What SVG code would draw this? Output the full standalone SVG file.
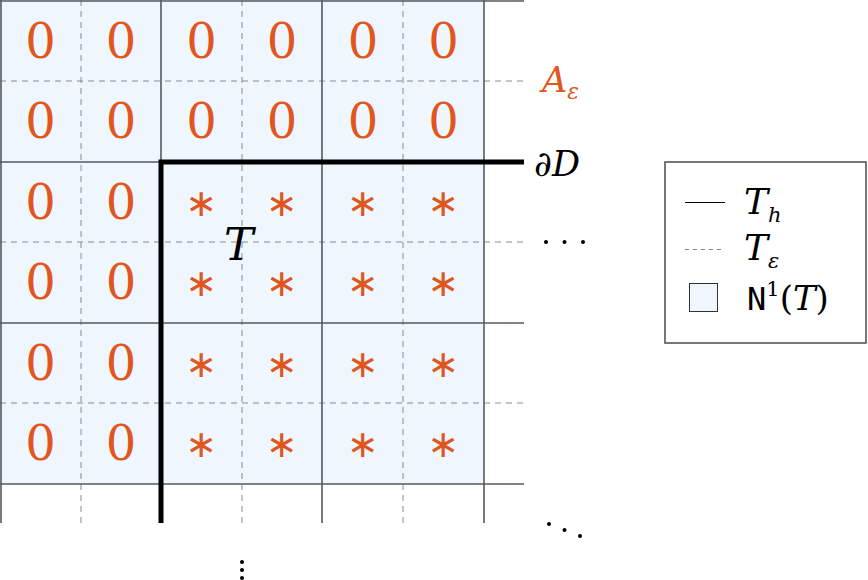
<svg xmlns="http://www.w3.org/2000/svg" width="868" height="580" viewBox="0 0 868 580">
<style>
.solid{stroke:#555a60;stroke-width:1.6;fill:none}
.dash{stroke:#8a8a8a;stroke-width:1;stroke-dasharray:6,5;fill:none}
.zero{font-family:'DejaVu Serif',serif;font-size:48px;fill:#e0561e;text-anchor:middle;font-weight:normal}
.ast{font-family:'DejaVu Sans',sans-serif;font-size:38px;fill:#e0561e;text-anchor:middle}
.math{font-family:'DejaVu Serif',serif;font-style:italic;fill:#000}
</style>
<rect x="0" y="0" width="868" height="580" fill="#fff"/>
<rect x="0" y="0" width="484" height="484" fill="#eff6fe"/>
<g id="grid">
<path class="dash" d="M0 81H524M0 242H524M0 403H524M81 0V523M242 0V523M403 0V523"/>
<path class="solid" d="M0 1H524M0 162H524M0 323H524M0 484H524M1 0V523M161 0V523M322 0V523M484 0V523"/>
</g>
<g id="connectors">
<path d="M161 523V162H524" stroke="#000" stroke-width="5" fill="none"/>
</g>
<g id="zeros">
<text class="zero" x="40.5" y="58">0</text><text class="zero" x="121" y="58">0</text><text class="zero" x="201.5" y="58">0</text><text class="zero" x="282" y="58">0</text><text class="zero" x="363" y="58">0</text><text class="zero" x="443.5" y="58">0</text>
<text class="zero" x="40.5" y="138">0</text><text class="zero" x="121" y="138">0</text><text class="zero" x="201.5" y="138">0</text><text class="zero" x="282" y="138">0</text><text class="zero" x="363" y="138">0</text><text class="zero" x="443.5" y="138">0</text>
<text class="zero" x="40.5" y="219">0</text><text class="zero" x="121" y="219">0</text>
<text class="zero" x="40.5" y="299">0</text><text class="zero" x="121" y="299">0</text>
<text class="zero" x="40.5" y="380">0</text><text class="zero" x="121" y="380">0</text>
<text class="zero" x="40.5" y="460">0</text><text class="zero" x="121" y="460">0</text>
</g>
<g id="stars">
<text class="ast" x="201.5" y="216">∗</text><text class="ast" x="282" y="216">∗</text><text class="ast" x="363" y="216">∗</text><text class="ast" x="443.5" y="216">∗</text>
<text class="ast" x="201.5" y="296">∗</text><text class="ast" x="282" y="296">∗</text><text class="ast" x="363" y="296">∗</text><text class="ast" x="443.5" y="296">∗</text>
<text class="ast" x="201.5" y="377">∗</text><text class="ast" x="282" y="377">∗</text><text class="ast" x="363" y="377">∗</text><text class="ast" x="443.5" y="377">∗</text>
<text class="ast" x="201.5" y="457">∗</text><text class="ast" x="282" y="457">∗</text><text class="ast" x="363" y="457">∗</text><text class="ast" x="443.5" y="457">∗</text>
</g>
<g id="label-T"><text class="math" x="224" y="260" font-size="44">T</text></g>
<g id="label-A"><text class="math" x="542" y="92" font-size="35" style="fill:#e0561e">A<tspan font-size="22" dy="7">ε</tspan></text></g>
<g id="label-dD"><text class="math" x="534" y="176" font-size="35">∂D</text></g>
<g id="dots">
<circle cx="546" cy="242" r="2" fill="#000"/><circle cx="564.5" cy="242" r="2" fill="#000"/><circle cx="583" cy="242" r="2" fill="#000"/>
<circle cx="549" cy="524" r="2" fill="#000"/><circle cx="564.5" cy="530" r="2" fill="#000"/><circle cx="580" cy="536" r="2" fill="#000"/>
<circle cx="242" cy="562" r="2" fill="#000"/><circle cx="242" cy="570" r="2" fill="#000"/><circle cx="242" cy="578" r="2" fill="#000"/>
</g>
<g id="legend">
<rect x="665" y="162" width="201" height="181" fill="#fff" stroke="#555" stroke-width="1.6"/>
<line x1="685" y1="202.5" x2="725" y2="202.5" stroke="#000" stroke-width="1.2"/>
<text class="math" x="744" y="214" font-size="36">T<tspan font-size="21" dy="8">h</tspan></text>
<line x1="685" y1="249.5" x2="725" y2="249.5" stroke="#888" stroke-width="1" stroke-dasharray="4,4"/>
<text class="math" x="744" y="260" font-size="36">T<tspan font-size="21" dy="8">ε</tspan></text>
<rect x="689.5" y="283.5" width="28" height="28" fill="#eff6fe" stroke="#333" stroke-width="1"/>
<text x="747" y="310" font-size="32" font-family="'DejaVu Sans Mono',monospace">N<tspan font-family="'DejaVu Serif',serif" font-size="21" dy="-14">1</tspan><tspan font-family="'DejaVu Serif',serif" font-size="34" dy="14">(</tspan><tspan font-family="'DejaVu Serif',serif" font-size="34" font-style="italic">T</tspan><tspan font-family="'DejaVu Serif',serif" font-size="34">)</tspan></text>
</g>
</svg>
